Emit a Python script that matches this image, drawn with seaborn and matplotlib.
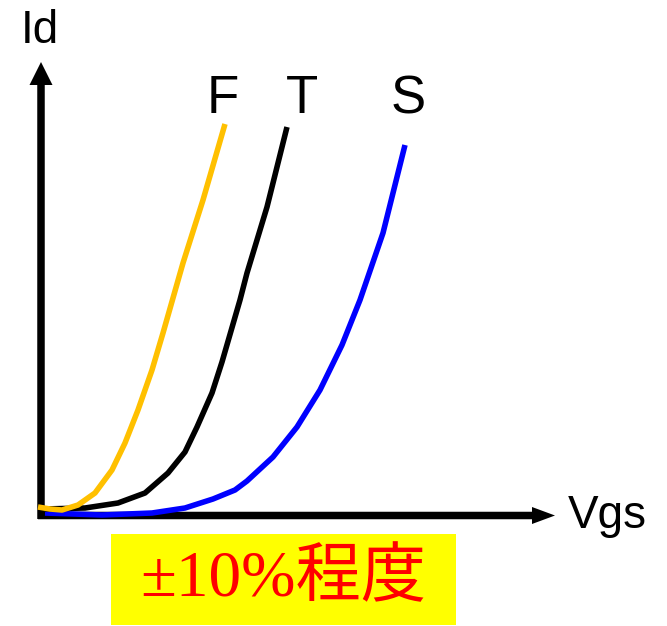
import matplotlib
matplotlib.use("Agg")
import matplotlib.pyplot as plt
import seaborn as sns
from matplotlib.patches import Rectangle

# Id-Vgs curves for the three corners (arbitrary units)
f_vgs = [-0.04, 0.08, 0.20, 0.36, 0.53, 0.70, 0.83, 0.96, 1.10, 1.21, 1.41, 1.61, 1.83]
f_id = [0.08, 0.06, 0.05, 0.10, 0.22, 0.45, 0.72, 1.05, 1.45, 1.82, 2.52, 3.15, 3.91]

t_vgs = [0.01, 0.43, 0.76, 1.03, 1.26, 1.43, 1.55, 1.70, 1.80, 1.98, 2.05, 2.25, 2.45]
t_id = [0.06, 0.07, 0.12, 0.22, 0.42, 0.63, 0.88, 1.22, 1.53, 2.15, 2.42, 3.08, 3.88]

s_vgs = [0.03, 0.60, 1.10, 1.43, 1.71, 1.93, 2.05, 2.31, 2.55, 2.78, 3.00, 3.18, 3.41, 3.63]
s_id = [0.02, 0.00, 0.02, 0.07, 0.16, 0.25, 0.34, 0.58, 0.88, 1.25, 1.70, 2.15, 2.82, 3.70]

curve_names = ["F", "T", "S"]
curve_colors = ["#FFC000", "black", "#0000FF"]
label_x = [1.81, 2.60, 3.66]
label_y = 4.02

note_text = "±10%程度"

sns.set_style("white")
plt.rcParams["font.family"] = ["Liberation Sans", "DejaVu Sans"]
plt.rcParams["text.color"] = "black"

fig = plt.figure(figsize=(6.67, 6.26), dpi=100)
ax = fig.add_axes([42 / 667, 111 / 626, 511 / 667, 453 / 626])
ax.set_xlim(0, 5.11)
ax.set_ylim(0, 4.53)
ax.axis("off")

# axes arrows
ax.arrow(-0.01, -0.04, 0, 4.57, width=0.075, head_width=0.23, head_length=0.23,
         length_includes_head=True, color="black", lw=0, clip_on=False, zorder=1)
ax.arrow(-0.04, -0.005, 5.17, 0, width=0.075, head_width=0.17, head_length=0.23,
         length_includes_head=True, color="black", lw=0, clip_on=False, zorder=1)

# draw S first so that T and F sit on top near the origin
curves = [(s_vgs, s_id, curve_colors[2]),
          (t_vgs, t_id, curve_colors[1]),
          (f_vgs, f_id, curve_colors[0])]
for xs, ys, c in curves:
    sns.lineplot(x=xs, y=ys, color=c, linewidth=4.0, sort=False, ax=ax,
                 solid_capstyle="butt", solid_joinstyle="round",
                 clip_on=False, zorder=3)

for name, lx in zip(curve_names, label_x):
    ax.text(lx, label_y, name, fontsize=38, ha="center", va="baseline",
            color="black")

ax.text(-0.02, 4.72, "Id", fontsize=33, ha="center", va="baseline", color="black")
ax.text(5.65, -0.13, "Vgs", fontsize=33, ha="center", va="baseline", color="black")

# yellow note box
fig.patches.append(Rectangle((111 / 667, 1 / 626), 345 / 667, 91 / 626,
                             transform=fig.transFigure, facecolor="#FFFF00",
                             edgecolor="none", zorder=0))
fig.text(283 / 667, 46 / 626, note_text, fontsize=47, color="#FF0000",
         ha="center", va="center",
         family=["Liberation Serif", "Noto Sans CJK JP"])

fig.savefig("out.png", dpi=100)
